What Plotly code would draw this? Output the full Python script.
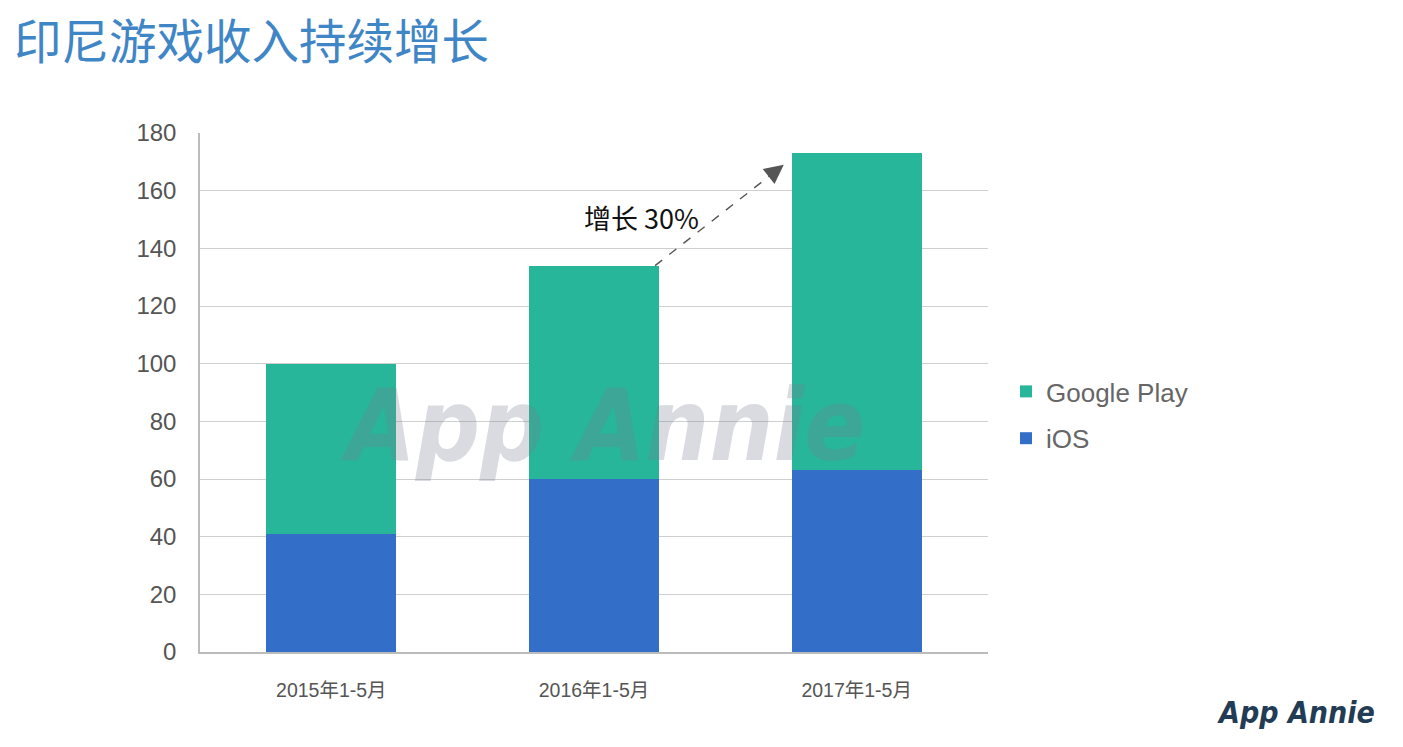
import plotly.graph_objects as go

categories = ["2015年1-5月", "2016年1-5月", "2017年1-5月"]
ios_values = [41, 60, 63]
google_play_values = [59, 74, 110]
series_names = ["iOS", "Google Play"]
y_ticks = [0, 20, 40, 60, 80, 100, 120, 140, 160, 180]
growth_label = "增长 30%"
title_text = "印尼游戏收入持续增长"

IOS_COLOR = "#336FC8"
GP_COLOR = "#27B69A"
BAR_WIDTH = 0.495

# page offset (body margin) compensation
OFF = 8
PLOT_L, PLOT_R, PLOT_T, PLOT_B = 200, 988, 133, 652  # in page pixels
W, H = 1403, 747


def px(x):
    return (x - PLOT_L) / (PLOT_R - PLOT_L)


def py(y):
    return (PLOT_B - y) / (PLOT_B - PLOT_T)


totals = [a + b for a, b in zip(ios_values, google_play_values)]

fig = go.Figure()
fig.add_trace(go.Bar(x=categories, y=ios_values, name=series_names[0],
                     marker=dict(color=IOS_COLOR, line=dict(width=0)),
                     width=BAR_WIDTH, legendrank=2, legendgroup="ios"))
fig.add_trace(go.Bar(x=categories, y=google_play_values, name=series_names[1],
                     marker=dict(color=GP_COLOR, line=dict(width=0)),
                     width=BAR_WIDTH, legendrank=1, legendgroup="gp"))

# dashed growth arrow from top of 2016 bar toward top of 2017 bar
x0 = 1 + BAR_WIDTH / 2 - 0.015
y0 = totals[1]
x1 = 2 - BAR_WIDTH / 2 - 0.03
y1 = totals[2] - 4
fig.add_shape(type="line", xref="x", yref="y", x0=x0, y0=y0,
              x1=x0 + (x1 - x0) * 0.9, y1=y0 + (y1 - y0) * 0.9,
              line=dict(color="#555555", width=1.4, dash="dash"))
fig.add_annotation(x=x1, y=y1, xref="x", yref="y", ax=-9, ay=7,
                   showarrow=True, arrowhead=2, arrowsize=2.4, arrowwidth=1.6,
                   arrowcolor="#555555", text="")
fig.add_annotation(x=px(641), y=py(217), xref="paper", yref="paper", text=growth_label,
                   showarrow=False, xanchor="center", yanchor="middle",
                   font=dict(size=27, color="#111111",
                             family="Noto Sans CJK SC, Noto Sans, sans-serif"))

# watermark
fig.add_annotation(x=px(602), y=py(425), xref="paper", yref="paper", text="App Annie",
                   showarrow=False, xanchor="center", yanchor="middle",
                   font=dict(size=100, color="rgba(120,125,145,0.28)",
                             family="DejaVu Sans Condensed, DejaVu Sans, sans-serif",
                             style="italic", weight="bold"))
# logo
fig.add_annotation(x=px(1377), y=py(712), xref="paper", yref="paper",
                   xanchor="right", yanchor="middle", text="App Annie",
                   showarrow=False,
                   font=dict(size=30, color="#233C55",
                             family="DejaVu Sans Condensed, DejaVu Sans, sans-serif",
                             style="italic", weight="bold"))

fig.update_layout(
    width=W, height=H,
    barmode="stack",
    paper_bgcolor="white", plot_bgcolor="white",
    margin=dict(l=PLOT_L - OFF, r=W - (PLOT_R - OFF), t=PLOT_T - OFF, b=H - (PLOT_B - OFF)),
    title=dict(text=title_text, x=(14 - OFF) / W, xanchor="left", xref="container",
               y=1 - (42 - OFF) / H, yanchor="middle", yref="container",
               font=dict(size=47.5, color="#3F86C6",
                         family="Noto Sans CJK SC, sans-serif")),
    showlegend=True,
    legend=dict(x=px(1006), xanchor="left", y=py(415), yanchor="middle",
                traceorder="grouped", tracegroupgap=10,
                font=dict(size=26, color="#666666",
                          family="Liberation Sans, Arial, sans-serif"),
                bgcolor="rgba(0,0,0,0)"),
    xaxis=dict(type="category", range=[-0.5, 2.5], showgrid=False,
               showline=True, linecolor="#BBBBBB", linewidth=1.5,
               ticks="", ticklabelstandoff=20,
               tickfont=dict(size=19.5, color="#555555",
                             family="Liberation Sans, Noto Sans CJK SC, sans-serif")),
    yaxis=dict(range=[0, 180], tickvals=y_ticks, showgrid=True,
               gridcolor="#CFCFCF", gridwidth=1.2, zeroline=False,
               showline=True, linecolor="#BBBBBB", linewidth=1.5,
               ticks="", ticklabelstandoff=17,
               tickfont=dict(size=24, color="#555555",
                             family="Liberation Sans, Arial, sans-serif")),
)

fig.write_html("out.html")
